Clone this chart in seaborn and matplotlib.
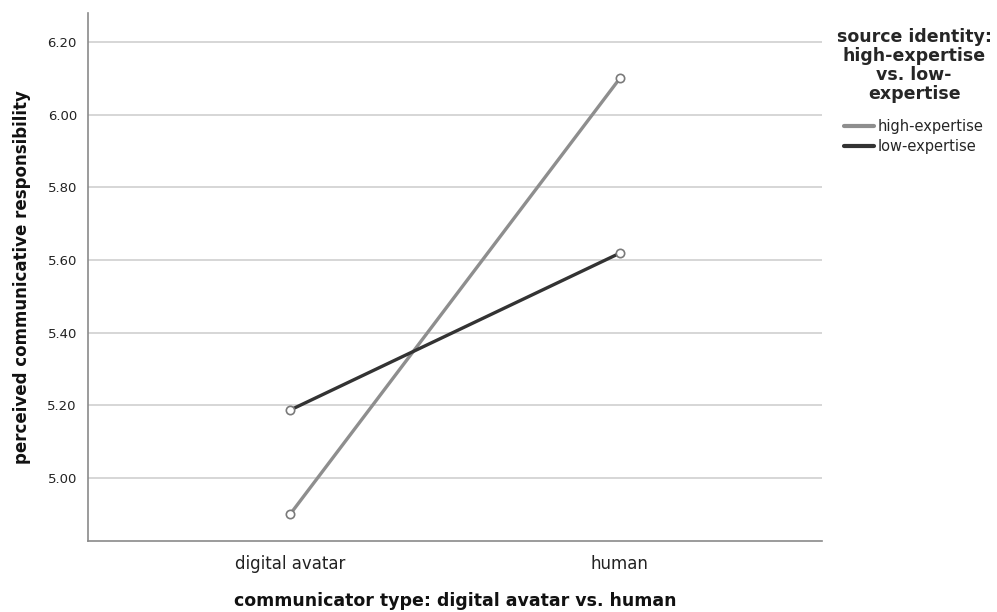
import pandas as pd
import matplotlib
matplotlib.use("Agg")
import matplotlib.pyplot as plt
import seaborn as sns

# values
communicator = ["digital avatar", "human"]
high_expertise = [4.90, 6.10]
low_expertise = [5.187, 5.619]
groups = ["high-expertise", "low-expertise"]
y_ticks = [5.00, 5.20, 5.40, 5.60, 5.80, 6.00, 6.20]

df = pd.DataFrame({
    "communicator": communicator * 2,
    "value": high_expertise + low_expertise,
    "group": [groups[0]] * 2 + [groups[1]] * 2,
})

sns.set_style("white")
plt.rcParams['font.family'] = ['DejaVu Sans']

fig = plt.figure(figsize=(9.97, 6.12), dpi=100)
ax = fig.add_axes([0.0883, 0.116, 0.736, 0.863])

palette = {groups[0]: "#8e8e8e", groups[1]: "#333333"}
sns.lineplot(data=df, x="communicator", y="value", hue="group", palette=palette,
             marker="o", linewidth=2.4, ax=ax, sort=False)

for line in ax.get_lines():
    line.set_markerfacecolor("white")
    line.set_markeredgecolor("#7a7a7a")
    line.set_markersize(6)
    line.set_markeredgewidth(1.2)

ax.set_xlim(-0.612, 1.612)
ax.set_ylim(4.827, 6.28)
ax.set_yticks(y_ticks)
ax.set_yticklabels([f"{v:.2f}" for v in y_ticks], fontsize=9.5, color="#222222")
ax.tick_params(axis="x", labelsize=12, length=0, pad=10, labelcolor="#222222")
ax.tick_params(axis="y", length=0, pad=8)
ax.yaxis.grid(True, color="#cfcfcf", linewidth=1.2)
ax.set_axisbelow(True)
for side in ["top", "right"]:
    ax.spines[side].set_visible(False)
for side in ["left", "bottom"]:
    ax.spines[side].set_color("#8a8a8a")
    ax.spines[side].set_linewidth(1.2)

ax.set_xlabel("communicator type: digital avatar vs. human", fontsize=12.5,
              fontweight="bold", labelpad=14, color="#111111")
ax.set_ylabel("perceived communicative responsibility", fontsize=12,
              fontweight="bold", labelpad=12, color="#111111")

handles, labels = ax.get_legend_handles_labels()
ax.get_legend().remove()
leg = fig.legend(handles, labels, title="source identity:\nhigh-expertise\nvs. low-\nexpertise",
                 loc="upper left", bbox_to_anchor=(0.826, 0.975), frameon=False,
                 fontsize=10.5, handlelength=2.0, handletextpad=0.3,
                 labelspacing=0.35, alignment="center",
                 title_fontproperties={"weight": "bold", "size": 12.5})
leg.get_title().set_multialignment("center")
leg.get_title().set_linespacing(1.05)
leg._legend_box.sep = 12
for h in leg.legend_handles:
    h.set_marker("")
    h.set_linewidth(3)

fig.savefig("out.png", dpi=100)
